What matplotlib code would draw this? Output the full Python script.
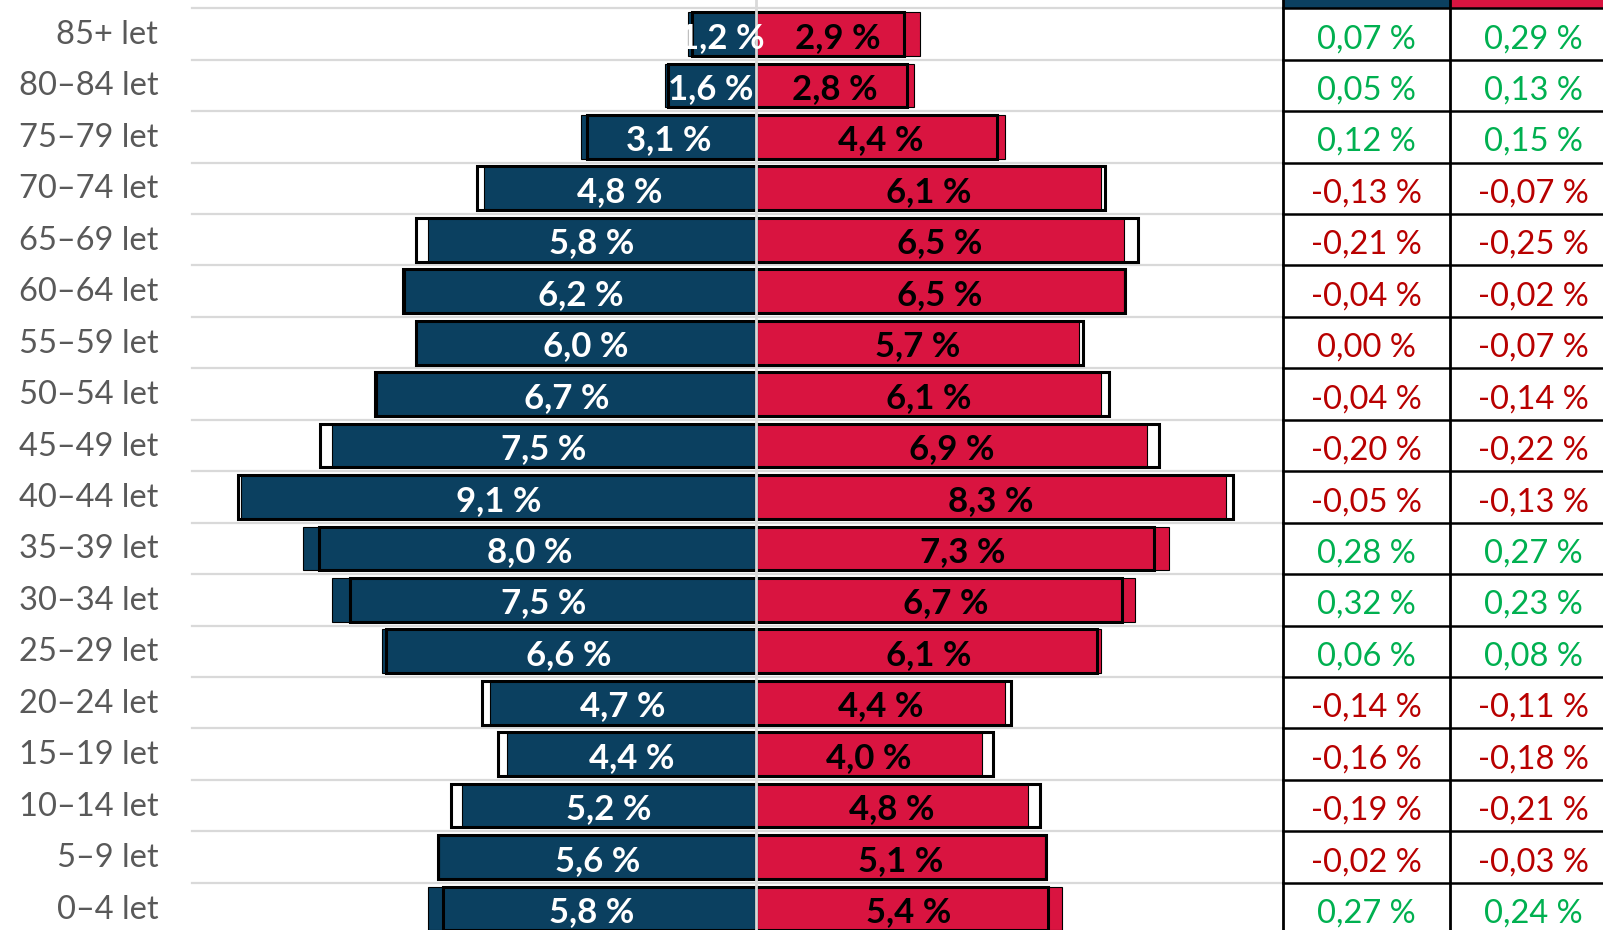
import numpy as np
import matplotlib.pyplot as plt

plt.rcParams['font.family'] = ['Lato', 'DejaVu Sans']

# rows from bottom (0-4) to top (85+)
ageGroups = ["0–4 let", "5–9 let", "10–14 let", "15–19 let", "20–24 let",
             "25–29 let", "30–34 let", "35–39 let", "40–44 let", "45–49 let",
             "50–54 let", "55–59 let", "60–64 let", "65–69 let", "70–74 let",
             "75–79 let", "80–84 let", "85+ let"]
menShare = [5.8, 5.6, 5.2, 4.4, 4.7, 6.6, 7.5, 8.0, 9.1, 7.5,
            6.7, 6.0, 6.2, 5.8, 4.8, 3.1, 1.6, 1.2]
womenShare = [5.4, 5.1, 4.8, 4.0, 4.4, 6.1, 6.7, 7.3, 8.3, 6.9,
              6.1, 5.7, 6.5, 6.5, 6.1, 4.4, 2.8, 2.9]
menChange = [0.27, -0.02, -0.19, -0.16, -0.14, 0.06, 0.32, 0.28, -0.05, -0.20,
             -0.04, 0.00, -0.04, -0.21, -0.13, 0.12, 0.05, 0.07]
womenChange = [0.24, -0.03, -0.21, -0.18, -0.11, 0.08, 0.23, 0.27, -0.13, -0.22,
               -0.14, -0.07, -0.02, -0.25, -0.07, 0.15, 0.13, 0.29]

BLUE = "#0B4060"
RED = "#D91440"
GREEN = "#00B050"
DARKRED = "#B80000"
GRID = "#d9d9d9"

def pct(v, digits):
    return f"{v:.{digits}f} %".replace(".", ",")

def main():
    men = np.array(menShare)
    women = np.array(womenShare)
    menPrev = men - np.array(menChange)
    womenPrev = women - np.array(womenChange)
    y = np.arange(len(ageGroups))

    fig = plt.figure(figsize=(16.03, 9.3), dpi=100)
    ax = fig.add_axes([0, 0, 1, 1])
    ax.set_xlim(-13.357, 14.965)
    ax.set_ylim(-0.418, 17.661)
    ax.axis("off")

    tableLeft, tableMid, tableRight = 9.31, 12.26, 16.0
    height = 0.85

    # grid lines between rows
    for b in np.arange(-0.5, len(ageGroups)):
        ax.plot([-9.97, tableLeft], [b, b], color=GRID, lw=1.6, zorder=1)
        ax.plot([tableLeft, tableRight], [b, b], color="black", lw=1.8, zorder=6)

    # current shares (filled)
    ax.barh(y, -men, height=height, color=BLUE, edgecolor="black", lw=0.8, zorder=2)
    ax.barh(y, women, height=height, color=RED, edgecolor="black", lw=0.8, zorder=2)
    # previous shares (outline)
    ax.barh(y, -menPrev, height=height, facecolor="none", edgecolor="black", lw=2.2, zorder=3)
    ax.barh(y, womenPrev, height=height, facecolor="none", edgecolor="black", lw=2.2, zorder=3)

    ax.axvline(0, color=GRID, lw=2.0, zorder=4)

    for i in range(len(ageGroups)):
        ax.text(-10.56, y[i] - 0.02, ageGroups[i], ha="right", va="center",
                fontsize=23.5, color="#595959")
        ax.text(-men[i] / 2, y[i] - 0.07, pct(men[i], 1), ha="center", va="center",
                fontsize=25, fontweight="bold", color="white", zorder=5)
        ax.text(women[i] / 2, y[i] - 0.07, pct(women[i], 1), ha="center", va="center",
                fontsize=25, fontweight="bold", color="black", zorder=5)
        for xc, v in [((tableLeft + tableMid) / 2, menChange[i]),
                      (tableMid + (tableMid - tableLeft) / 2, womenChange[i])]:
            ax.text(xc, y[i] - 0.1, pct(v, 2), ha="center", va="center",
                    fontsize=23.5, color=GREEN if v > 0 else DARKRED, zorder=7)

    # table header colour strips
    top = 17.661
    ax.fill_between([tableLeft, tableMid], 17.5, top, color=BLUE, lw=0, zorder=5)
    ax.fill_between([tableMid, tableRight], 17.5, top, color=RED, lw=0, zorder=5)
    for xv in [tableLeft, tableMid]:
        ax.plot([xv, xv], [-0.5, top], color="black", lw=2.0, zorder=7)

    fig.savefig("out.png", dpi=100)
    plt.close(fig)

if __name__ == '__main__':
    main()
